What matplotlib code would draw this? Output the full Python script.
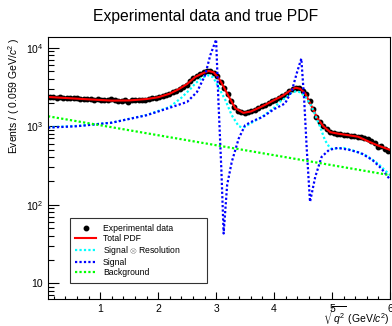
import numpy as np
import matplotlib
matplotlib.use('Agg')
import matplotlib.pyplot as plt
from matplotlib.ticker import FixedLocator, FixedFormatter, MultipleLocator, LogLocator, NullFormatter

plt.rcParams['font.family'] = ['Liberation Sans', 'DejaVu Sans']
plt.rcParams['mathtext.fontset'] = 'custom'
plt.rcParams['mathtext.rm'] = 'Liberation Sans'
plt.rcParams['mathtext.it'] = 'Liberation Sans:italic'

# --- binned data (100 bins, 0.1 .. 6.0) ---
x_lo, x_hi, n_bins = 0.1, 6.0, 100
data_counts = [
    2380, 2330, 2310, 2340, 2290, 2300, 2270, 2260, 2280, 2240,
    2230, 2250, 2200, 2190, 2220, 2170, 2180, 2140, 2200, 2130,
    2110, 2120, 2150, 2050, 2140, 2130, 2160, 2180, 2170, 2220,
    2270, 2300, 2350, 2400, 2480, 2580, 2700, 2800, 2980, 3200,
    3400, 3750, 4100, 4400, 4600, 4850, 5050, 5000, 4800, 4350,
    3700, 3100, 2550, 2100, 1750, 1580, 1500, 1480, 1500, 1550,
    1620, 1700, 1790, 1870, 1960, 2080, 2180, 2290, 2420, 2600,
    2800, 2980, 3100, 3050, 2850, 2550, 2100, 1650, 1320, 1120,
    1000, 920, 850, 820, 800, 790, 780, 770, 760, 750,
    735, 720, 700, 680, 640, 610, 550, 560, 520, 490,
]

# --- total PDF ---
total_x = [0.10, 0.40, 0.80, 1.20, 1.50, 1.80, 2.00, 2.20, 2.35, 2.50, 2.64, 2.75, 2.87,
           2.96, 3.04, 3.10, 3.21, 3.33, 3.47, 3.60, 3.80, 4.00, 4.15, 4.28, 4.37, 4.45,
           4.54, 4.65, 4.75, 4.85, 4.97, 5.10, 5.30, 5.45, 5.65, 5.80, 6.00]
total_y = [2360, 2290, 2200, 2120, 2130, 2220, 2340, 2600, 2950, 3450, 4250, 4650, 5070,
           4850, 4150, 3500, 2450, 1700, 1480, 1540, 1800, 2150, 2450, 2850, 3100, 3000,
           2600, 1780, 1250, 1000, 840, 805, 765, 735, 630, 565, 500]

# --- signal (x) resolution ---
sigres_x = [0.10, 0.60, 1.20, 1.80, 2.20, 2.40, 2.55, 2.64, 2.75, 2.86, 2.95, 3.04, 3.16,
            3.27, 3.39, 3.47, 3.55, 3.80, 4.00, 4.10, 4.20, 4.30, 4.38, 4.46, 4.54, 4.62,
            4.70, 4.79, 4.88, 4.97, 5.05, 5.20, 5.40, 5.60, 5.80, 5.90, 6.00]
sigres_y = [970, 1010, 1110, 1390, 1760, 2300, 2950, 3500, 4100, 4470, 4200, 3170, 2150,
            1380, 1000, 960, 1040, 1330, 1720, 2050, 2300, 2650, 2800, 2700, 2380, 1950,
            1450, 1000, 660, 520, 520, 530, 480, 420, 330, 280, 240]

# --- signal ---
sig_x = [0.10, 0.60, 1.20, 1.80, 2.20, 2.50, 2.67, 2.81, 2.90, 3.00, 3.04, 3.09, 3.13,
         3.19, 3.27, 3.39, 3.50, 3.65, 3.80, 4.00, 4.19, 4.31, 4.39, 4.47, 4.52, 4.565,
         4.62, 4.71, 4.82, 4.95, 5.10, 5.30, 5.50, 5.70, 5.85, 6.00]
sig_y = [960, 1000, 1110, 1380, 1720, 2040, 2730, 4460, 8040, 12700, 2100, 289, 43,
         178, 351, 697, 1030, 1180, 1310, 1650, 1950, 2880, 4700, 7280, 2140, 494,
         109, 226, 407, 500, 530, 500, 455, 370, 290, 210]

# --- background ---
bkg_x = [0.1, 6.0]
bkg_y = [1340, 238]

edges = np.linspace(x_lo, x_hi, n_bins + 1)
centers = 0.5 * (edges[:-1] + edges[1:])
counts = np.array(data_counts, dtype=float)

fig = plt.figure(figsize=(3.92, 3.26), dpi=100)
ax = fig.add_axes([48/392, 27/326, 342/392, 262/326])

dots = (0, (1, 1))
ax.errorbar(centers, counts, yerr=np.sqrt(counts), fmt='none', ecolor='black', elinewidth=0.8)
ax.plot(centers, counts, 'o', color='black', markersize=3.2, label='Experimental data')
ax.plot(total_x, total_y, color='#ff0000', lw=1.5, label='Total PDF')
ax.plot(sigres_x, sigres_y, color='#00ffff', lw=1.6, linestyle=dots, label=r'Signal $\otimes$ Resolution')
ax.plot(sig_x, sig_y, color='#0000ff', lw=1.6, linestyle=dots, label='Signal')
ax.plot(bkg_x, bkg_y, color='#00ff00', lw=1.6, linestyle=dots, label='Background')

ax.set_yscale('log')
ax.set_xlim(x_lo, x_hi)
ax.set_ylim(6.3, 13700)

ax.xaxis.set_major_locator(MultipleLocator(1))
ax.xaxis.set_minor_locator(MultipleLocator(0.2))
ax.yaxis.set_major_locator(FixedLocator([10, 100, 1000, 10000]))
ax.yaxis.set_major_formatter(FixedFormatter(['10', r'$10^2$', r'$10^3$', r'$10^4$']))
ax.yaxis.set_minor_locator(LogLocator(base=10, subs=np.arange(2, 10)))
ax.yaxis.set_minor_formatter(NullFormatter())

ax.tick_params(axis='both', which='both', direction='in', labelsize=7.5, width=0.8)
ax.tick_params(axis='y', which='major', length=8)
ax.tick_params(axis='y', which='minor', length=4)
ax.tick_params(axis='x', which='major', length=5)
ax.tick_params(axis='x', which='minor', length=2.5)
for s in ax.spines.values():
    s.set_linewidth(0.8)

ax.set_ylabel('Events / ( 0.059 GeV/$c^2$ )', fontsize=7.5, loc='top')
ax.yaxis.set_label_coords(-0.075, 1.0)
ax.set_xlabel(r'$\sqrt{q^2}$ (GeV/$c^2$)', fontsize=7.5, loc='right')
ax.xaxis.set_label_coords(1.0, -0.02)

fig.text(206/392, 1 - 16/326, 'Experimental data and true PDF', ha='center', va='center', fontsize=11.3)

leg = ax.legend(loc='lower left', bbox_to_anchor=(0.064, 0.061, 0.401, 0.248), mode='expand',
                fontsize=6.2, frameon=True, fancybox=False, edgecolor='black',
                handlelength=2.4, handletextpad=0.8, labelspacing=0.13, borderpad=0.65,
                borderaxespad=0)
leg.get_frame().set_linewidth(0.8)

plt.savefig('out.png', dpi=100)
